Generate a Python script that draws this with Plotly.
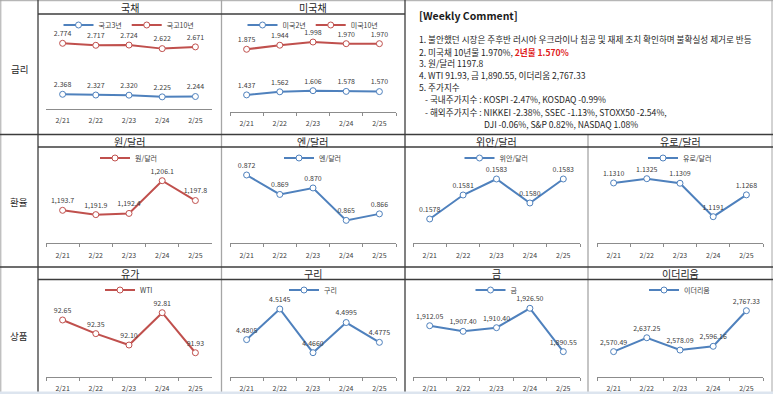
import plotly.graph_objects as go

W, H = 773, 394

# ---------------- data ----------------
dates = ["2/21", "2/22", "2/23", "2/24", "2/25"]
kr3y = [2.368, 2.327, 2.320, 2.225, 2.244]
kr10y = [2.774, 2.717, 2.724, 2.622, 2.671]
us2y = [1.437, 1.562, 1.606, 1.578, 1.570]
us10y = [1.875, 1.944, 1.998, 1.970, 1.970]
krw_usd = [1193.7, 1191.9, 1192.4, 1206.1, 1197.8]
jpy_usd = [0.872, 0.869, 0.870, 0.865, 0.866]
cny_usd = [0.1578, 0.1581, 0.1583, 0.1580, 0.1583]
eur_usd = [1.1310, 1.1325, 1.1309, 1.1191, 1.1268]
wti = [92.65, 92.35, 92.10, 92.81, 91.93]
copper = [4.4805, 4.5145, 4.4660, 4.4995, 4.4775]
gold = [1912.05, 1907.40, 1910.40, 1926.50, 1890.55]
ether = [2570.49, 2637.25, 2578.09, 2596.16, 2767.33]

section_labels = ["금리", "환율", "상품"]
panel_titles = [["국채", "미국채"],
                ["원/달러", "엔/달러", "위안/달러", "유로/달러"],
                ["유가", "구리", "금", "이더리움"]]

comment_title = "[Weekly Comment]"
comment_lines = [
    "1. 불안했던 시장은 주후반 러시아 우크라이나 침공 및 재제 조치 확인하며 불확실성 제거로 반등",
    "2. 미국채 10년물 1.970%, <b><span style='color:#E02020'>2년물 1.570%</span></b>",
    "3. 원/달러 1197.8",
    "4. WTI 91.93, 금 1,890.55, 이더리움 2,767.33",
    "5. 주가지수",
    "- 국내주가지수 : KOSPI -2.47%, KOSDAQ -0.99%",
    "- 해외주가지수 : NIKKEI -2.38%, SSEC -1.13%, STOXX50 -2.54%,",
    "DJI -0.06%, S&P 0.82%, NASDAQ 1.08%",
]

# ---------------- style ----------------
RED = "#C0504D"
BLUE = "#4F81BD"
TXT = "#404040"
FONT = "Noto Sans CJK KR, Noto Sans, sans-serif"
DARK = "#3c3c3c"
GRAY = "#a6a6a6"
AXIS = "#8c8c8c"

cols = [(46, 212), (230, 396), (413, 580), (597, 763)]
cell_centers = [130, 313, 496.5, 680]
rows = [dict(top=14, legend_y=25, title_y=7.5, label_y=69),
        dict(top=147, legend_y=158, title_y=141, label_y=202),
        dict(top=280, legend_y=290, title_y=273.5, label_y=336)]

charts = [
    dict(row=0, col=0, bottom=109, ticks=False,
         series=[("국고3년", kr3y, BLUE, [1.551, 6.829], "%{y:.3f}"),
                 ("국고10년", kr10y, RED, [0.897, 3.611], "%{y:.3f}")]),
    dict(row=0, col=1, bottom=112, ticks=True,
         series=[("미국2년", us2y, BLUE, [0.754, 4.674], "%{y:.3f}"),
                 ("미국10년", us10y, RED, [0.812, 2.473], "%{y:.3f}")]),
    dict(row=1, col=0, bottom=243.3, ticks=True,
         series=[("원/달러", krw_usd, RED, [1179.9, 1220.2], "%{y:,.1f}")]),
    dict(row=1, col=1, bottom=243.3, ticks=True,
         series=[("엔/달러", jpy_usd, BLUE, [0.86146, 0.87632], "%{y:.3f}")]),
    dict(row=1, col=2, bottom=243.3, ticks=True,
         series=[("위안/달러", cny_usd, BLUE, [0.157496, 0.158700], "%{y:.4f}")]),
    dict(row=1, col=3, bottom=243.3, ticks=True,
         series=[("유로/달러", eur_usd, BLUE, [1.10972, 1.14368], "%{y:.4f}")]),
    dict(row=2, col=0, bottom=377, ticks=True,
         series=[("WTI", wti, RED, [91.397, 93.529], "%{y:.2f}")]),
    dict(row=2, col=1, bottom=377, ticks=True,
         series=[("구리", copper, BLUE, [4.43903, 4.54669], "%{y:.4f}")]),
    dict(row=2, col=2, bottom=377, ticks=True,
         series=[("금", gold, BLUE, [1869.53, 1949.96], "%{y:,.2f}")]),
    dict(row=2, col=3, bottom=377, ticks=True,
         series=[("이더리움", ether, BLUE, [2448.58, 2914.93], "%{y:,.2f}")]),
]

fig = go.Figure()
layout = dict(
    width=W, height=H, autosize=False,
    margin=dict(l=0, r=0, t=0, b=0),
    paper_bgcolor="white", plot_bgcolor="rgba(0,0,0,0)",
    font=dict(family=FONT, color=TXT),
)

yi = 0
for ci, ch in enumerate(charts, start=1):
    xname = "xaxis" if ci == 1 else f"xaxis{ci}"
    xref = "x" if ci == 1 else f"x{ci}"
    lname = "legend" if ci == 1 else f"legend{ci}"
    x0, x1 = cols[ch["col"]]
    r = rows[ch["row"]]
    first_y = None
    for (name, vals, color, rng, tmpl) in ch["series"]:
        yi += 1
        yname = "yaxis" if yi == 1 else f"yaxis{yi}"
        yref = "y" if yi == 1 else f"y{yi}"
        yax = dict(visible=False, range=rng, fixedrange=True, anchor=xref)
        if first_y is None:
            first_y = yref
            yax["domain"] = [1 - ch["bottom"] / H, 1 - r["top"] / H]
        else:
            yax["overlaying"] = first_y
        layout[yname] = yax
        fig.add_trace(go.Scatter(
            x=dates, y=vals, name=name, mode="lines+markers",
            xaxis=xref, yaxis=yref, legend=lname,
            line=dict(color=color, width=2),
            marker=dict(size=6, color="white", line=dict(color=color, width=1)),
            cliponaxis=False, hoverinfo="skip",
        ))
        fig.add_trace(go.Scatter(
            x=dates, y=vals, mode="markers+text", showlegend=False,
            xaxis=xref, yaxis=yref,
            texttemplate=tmpl, textposition="top center",
            textfont=dict(size=7, color=TXT, family=FONT),
            marker=dict(size=7, opacity=0),
            cliponaxis=False, hoverinfo="skip",
        ))
    layout[xname] = dict(
        domain=[x0 / W, x1 / W], anchor=first_y, type="category",
        range=[-0.5, 4.5], showline=True, linecolor=AXIS, linewidth=1,
        ticks="outside" if ch["ticks"] else "", ticklen=3, tickcolor=AXIS,
        tickson="boundaries", showgrid=False, zeroline=False,
        tickfont=dict(size=7, color=TXT, family=FONT),
        ticklabelstandoff=5, fixedrange=True,
    )
    layout[lname] = dict(
        x=(x0 + x1) / 2 / W, xanchor="center",
        y=1 - r["legend_y"] / H, yanchor="middle",
        orientation="h", bgcolor="rgba(0,0,0,0)",
        font=dict(size=7, color=TXT, family=FONT),
        itemwidth=30, tracegroupgap=0,
    )

fig.update_layout(**layout)

# ---------------- spreadsheet grid ----------------
def hline(y, xa, xb, color, w=1):
    fig.add_shape(type="line", xref="paper", yref="paper",
                  x0=xa / W, x1=xb / W, y0=1 - y / H, y1=1 - y / H,
                  line=dict(color=color, width=w), layer="below")

def vline(x, ya, yb, color, w=1):
    fig.add_shape(type="line", xref="paper", yref="paper",
                  x0=x / W, x1=x / W, y0=1 - ya / H, y1=1 - yb / H,
                  line=dict(color=color, width=w), layer="below")

hline(0.7, 0, W, GRAY)
vline(0.8, 0, H, GRAY)
vline(38, 0, H, DARK, 1.3)
vline(221.5, 0, H, GRAY, 1.3)
vline(405, 0, H, DARK, 1.3)
vline(588, 134, H, GRAY, 1.3)
vline(772, 0, H, GRAY)
hline(14, 38, 405, DARK, 1.3)
hline(134.5, 0, W, DARK, 1.3)
hline(147, 38, W, DARK, 1.3)
hline(267, 0, W, DARK, 1.3)
hline(279.5, 38, W, DARK, 1.3)
fig.add_shape(type="rect", xref="paper", yref="paper",
              x0=0, x1=1, y0=0, y1=2.5 / H,
              fillcolor="#dde5ef", line=dict(width=0), layer="below")

# ---------------- texts ----------------
anns = []
for i, lab in enumerate(section_labels):
    anns.append(dict(text=lab, x=19 / W, y=1 - rows[i]["label_y"] / H,
                     xref="paper", yref="paper", showarrow=False,
                     xanchor="center", yanchor="middle",
                     font=dict(size=9.5, color="#262626", family=FONT)))
for ri, titles in enumerate(panel_titles):
    for cj, t in enumerate(titles):
        anns.append(dict(text=t, x=cell_centers[cj] / W,
                         y=1 - rows[ri]["title_y"] / H,
                         xref="paper", yref="paper", showarrow=False,
                         xanchor="center", yanchor="middle",
                         font=dict(size=10, color="#262626", family=FONT)))

anns.append(dict(text="<b>" + comment_title + "</b>", x=417 / W, y=1 - 15 / H,
                 xref="paper", yref="paper", showarrow=False,
                 xanchor="left", yanchor="middle",
                 font=dict(size=10.5, color="#1a1a1a", family=FONT)))
line_y = [39.3, 51.7, 63.3, 75, 87.3, 99.3, 111.7, 124]
line_x = [417, 417, 417, 417, 417, 423, 423, 482]
for t, lx, ly in zip(comment_lines, line_x, line_y):
    anns.append(dict(text=t, x=lx / W, y=1 - ly / H,
                     xref="paper", yref="paper", showarrow=False,
                     xanchor="left", yanchor="middle",
                     font=dict(size=8.6, color="#262626", family=FONT)))

fig.update_layout(annotations=anns)
fig.write_html("out.html",
               config={"displayModeBar": False},
               post_script="document.body.style.margin='0px';document.body.style.padding='0px';")
